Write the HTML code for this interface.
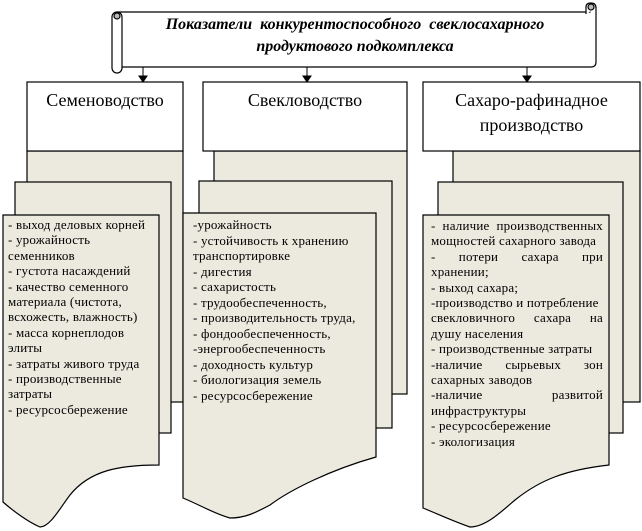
<!DOCTYPE html>
<html><head><meta charset="utf-8">
<style>
body{margin:0;background:#fff;}
#w{position:relative;width:642px;height:531px;overflow:hidden;font-family:"Liberation Serif",serif;}
svg{position:absolute;left:0;top:0;}
.h{position:absolute;font-size:18px;text-align:center;line-height:25px;color:#000;}
.t{position:absolute;font-size:13px;letter-spacing:0.2px;color:#000;font-family:"Liberation Serif",serif;}
.t div{white-space:nowrap;}
.j{text-align:justify;text-align-last:justify;white-space:normal!important;}
.title{position:absolute;left:122px;width:466px;top:14px;text-align:center;font-weight:bold;font-style:italic;font-size:16px;line-height:22px;}
</style></head><body><div id="w">
<svg width="642" height="531" viewBox="0 0 642 531">
<g stroke="#000" stroke-width="1.2" fill="#fff">
<path d="M117 12 H590 V8 H596 V62 Q596 67 591 67 H122" />
<rect x="112" y="12" width="10" height="61" rx="5"/>
<circle cx="117" cy="16" r="3" fill="#bbb"/>
<path d="M586 14 V7 Q586 3 591 3 Q596 3 596 8" fill="#fff"/>
<circle cx="591" cy="7" r="3" fill="#bbb"/>
</g>
<g stroke="#000" stroke-width="1" fill="#000">
<line x1="143" y1="67" x2="143" y2="79"/><path d="M139 76 L147 76 L143 82 Z"/>
<line x1="307" y1="67" x2="307" y2="79"/><path d="M303 76 L311 76 L307 82 Z"/>
<line x1="527" y1="67" x2="527" y2="79"/><path d="M523 76 L531 76 L527 82 Z"/>
</g>
<g stroke="#000" stroke-width="1.2" fill="#ECEADF">
<rect x="27" y="151" width="156" height="251"/>
<rect x="15" y="182" width="156" height="251"/>
<path d="M3 215 H159 V465 C120 465 90 470 70 495 C60 508 50 527 40 527 C28 522 12 510 3 502 Z"/>
<rect x="214" y="151" width="193" height="243"/>
<rect x="199" y="181" width="193" height="247"/>
<path d="M183 213 H376 V457 C330 470 290 490 270 505 C255 513 245 518 230 518 C215 514 200 505 183 498 Z"/>
<rect x="453" y="151" width="187" height="251"/>
<rect x="438" y="182" width="185" height="251"/>
<path d="M423 215 H609 V465 C565 470 540 480 515 500 C500 513 485 527 470 527 C455 522 440 515 423 508 Z"/>
</g>
<g stroke="#000" stroke-width="1.2" fill="#fff">
<rect x="27" y="82" width="156" height="69"/>
<rect x="203" y="82" width="204" height="69"/>
<rect x="423" y="82" width="217" height="69"/>
</g>
</svg>
<div class="title">Показатели&nbsp; конкурентоспособного&nbsp; свеклосахарного<br>продуктового подкомплекса</div>
<div class="h" style="left:27px;width:156px;top:88px;">Семеноводство</div>
<div class="h" style="left:203px;width:204px;top:88px;">Свекловодство</div>
<div class="h" style="left:423px;width:217px;top:88px;">Сахаро-рафинадное<br>производство</div>
<div class="t" style="left:8px;top:217px;line-height:15.4px;">
<div>- выход деловых корней</div><div>- урожайность</div><div>семенников</div><div>- густота насаждений</div><div>- качество семенного</div><div>материала (чистота,</div><div>всхожесть, влажность)</div><div>- масса корнеплодов</div><div>элиты</div><div>- затраты живого труда</div><div>- производственные</div><div>затраты</div><div>- ресурсосбережение</div>
</div>
<div class="t" style="left:193px;top:217px;line-height:15.5px;">
<div>-урожайность</div><div>- устойчивость к хранению</div><div>транспортировке</div><div>- дигестия</div><div>- сахаристость</div><div>- трудообеспеченность,</div><div>- производительность труда,</div><div>- фондообеспеченность,</div><div>-энергообеспеченность</div><div>- доходность культур</div><div>- биологизация земель</div><div>- ресурсосбережение</div>
</div>
<div class="t" style="left:431px;width:172px;top:218px;line-height:15.4px;">
<div class="j">- наличие производственных</div><div>мощностей сахарного завода</div><div class="j">- потери сахара при</div><div>хранении;</div><div>- выход сахара;</div><div>-производство и потребление</div><div class="j">свекловичного сахара на</div><div>душу населения</div><div>- производственные затраты</div><div class="j">-наличие сырьевых зон</div><div>сахарных заводов</div><div class="j">-наличие развитой</div><div>инфраструктуры</div><div>- ресурсосбережение</div><div>- экологизация</div>
</div>
</div></body></html>
